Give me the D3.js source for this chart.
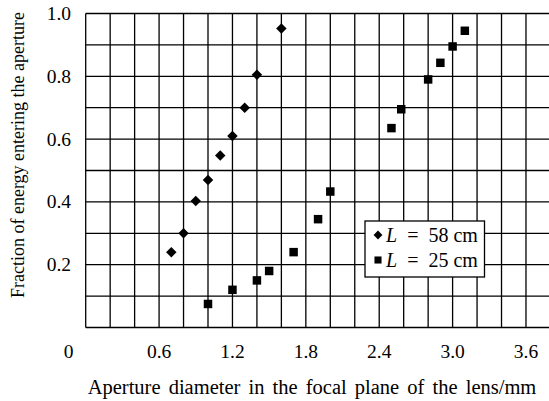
<!DOCTYPE html>
<html>
<head>
<meta charset="utf-8">
<script src="https://cdn.jsdelivr.net/npm/d3@7"></script>
<style>
  body { margin: 0; background: #fff; }
  text { font-family: "Liberation Serif", "DejaVu Serif", serif; fill: #000; }
</style>
</head>
<body>
<script>
var xTicks = [0, 0.6, 1.2, 1.8, 2.4, 3.0, 3.6],
    yTicks = [0.2, 0.4, 0.6, 0.8, 1.0];

// L = 58 cm (diamonds)
var long58 = [[0.7, 0.24], [0.8, 0.30], [0.9, 0.403], [1.0, 0.47], [1.1, 0.548],
              [1.2, 0.61], [1.3, 0.70], [1.4, 0.805], [1.6, 0.952]];
// L = 25 cm (squares)
var short25 = [[1.0, 0.075], [1.2, 0.12], [1.4, 0.15], [1.5, 0.18], [1.7, 0.24],
               [1.9, 0.345], [2.0, 0.433], [2.5, 0.635], [2.58, 0.695], [2.8, 0.79],
               [2.9, 0.843], [3.0, 0.895], [3.1, 0.945]];
var legendLabels = ["58 cm", "25 cm"];

var width = 549, height = 401;

var x = d3.scaleLinear().domain([0, 3.8]).range([85.7, 85.7 + 3.8 * 122.3]),
    y = d3.scaleLinear().domain([0, 1]).range([327.5, 13.5]);

var svg = d3.select("body").append("svg")
    .attr("width", width)
    .attr("height", height);

// grid
var g = svg.append("g").attr("stroke", "#000").attr("stroke-width", 1.3);
g.selectAll(".vl")
    .data(d3.range(0, 20).map(function(i) { return i * 0.2; }))
  .enter().append("line")
    .attr("x1", function(d) { return x(d); })
    .attr("x2", function(d) { return x(d); })
    .attr("y1", y(0))
    .attr("y2", y(1));
g.selectAll(".hl")
    .data(d3.range(0, 11).map(function(i) { return i * 0.1; }))
  .enter().append("line")
    .attr("x1", x(0))
    .attr("x2", x(3.8))
    .attr("y1", function(d) { return y(d); })
    .attr("y2", function(d) { return y(d); });

// x tick labels ("0" sits left of the corner)
svg.selectAll(".xt")
    .data(xTicks)
  .enter().append("text")
    .attr("x", function(d) { return d === 0 ? x(0) - 17 : x(d); })
    .attr("y", 358)
    .attr("text-anchor", "middle")
    .style("font-size", "19.5px")
    .text(function(d) { return d.toFixed(1).replace(/^0\.0$/, "0"); });

svg.selectAll(".yt")
    .data(yTicks)
  .enter().append("text")
    .attr("x", 71)
    .attr("y", function(d) { return y(d); })
    .attr("dy", "0.33em")
    .attr("text-anchor", "end")
    .style("font-size", "19.5px")
    .text(function(d) { return d.toFixed(1); });

svg.append("text")
    .attr("x", 312)
    .attr("y", 394)
    .attr("text-anchor", "middle")
    .style("font-size", "20.5px")
    .style("word-spacing", "3px")
    .text("Aperture diameter in the focal plane of the lens/mm");

svg.append("text")
    .attr("transform", "translate(24,155) rotate(-90)")
    .attr("text-anchor", "middle")
    .style("font-size", "18px")
    .text("Fraction of energy entering the aperture");

var diamond = d3.symbol().type(d3.symbolDiamond2).size(70),
    square = d3.symbol().type(d3.symbolSquare).size(72);

svg.selectAll(".dia")
    .data(long58)
  .enter().append("path")
    .attr("d", diamond)
    .attr("transform", function(d) { return "translate(" + x(d[0]) + "," + y(d[1]) + ")"; });

svg.selectAll(".sq")
    .data(short25)
  .enter().append("path")
    .attr("d", square)
    .attr("transform", function(d) { return "translate(" + x(d[0]) + "," + y(d[1]) + ")"; });

// legend
var leg = svg.append("g").attr("transform", "translate(365,221)");
leg.append("rect")
    .attr("width", 119.5)
    .attr("height", 56)
    .attr("fill", "#fff")
    .attr("stroke", "#000")
    .attr("stroke-width", 1.3);

var rows = leg.selectAll(".row")
    .data(legendLabels)
  .enter().append("g")
    .attr("transform", function(d, i) { return "translate(0," + (14 + i * 25) + ")"; });

rows.append("path")
    .attr("d", function(d, i) { return i === 0 ? d3.symbol().type(d3.symbolDiamond2).size(50)() : d3.symbol().type(d3.symbolSquare).size(50)(); })
    .attr("transform", "translate(13,0)");

var t = rows.append("text")
    .attr("x", 21)
    .attr("y", 7)
    .style("font-size", "20px");
t.append("tspan").style("font-style", "italic").text("L");
t.append("tspan").text("\u2002=\u2002");
t.append("tspan").text(function(d) { return d; });
</script>
</body>
</html>
